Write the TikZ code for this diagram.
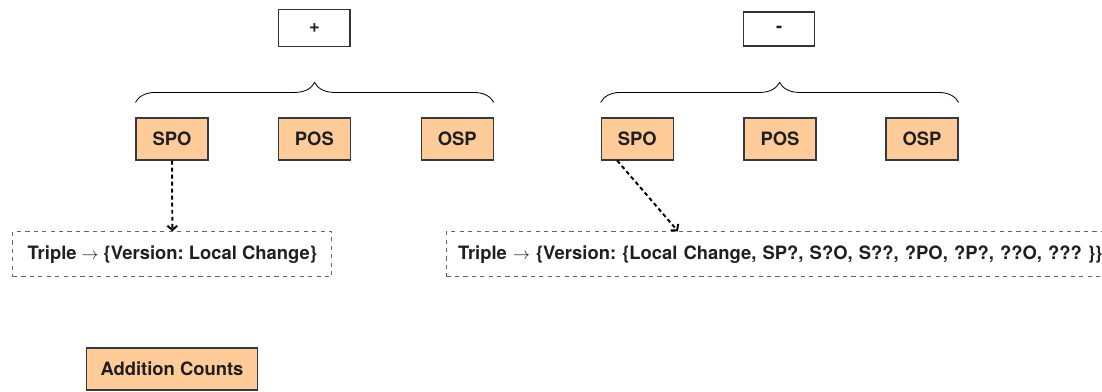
\documentclass[tikz,border=0pt]{standalone}
\usepackage{fontspec}
\setmainfont{TeX Gyre Heros}
\usetikzlibrary{decorations.pathreplacing,arrows.meta}
\definecolor{idxfill}{HTML}{FFCC99}
\definecolor{idxline}{HTML}{36393D}
\frenchspacing
\begin{document}
\begin{tikzpicture}[every node/.style={font=\fontsize{13.1}{15}\selectfont\bfseries, text=black!88},
    opbox/.style={draw=black!80, line width=0.8pt, minimum width=1.78cm, minimum height=0.925cm},
    idxbox/.style={draw=idxline, line width=0.8pt, fill=idxfill, minimum width=1.8cm, minimum height=1.05cm},
    mapbox/.style={draw=black!60, line width=0.6pt, dash pattern=on 3pt off 3pt, minimum height=1.125cm, inner sep=0pt},
    lookup/.style={line width=1.4pt, dash pattern=on 2.8pt off 2.2pt, -{Straight Barb[length=3pt,width=7pt]}},
    bracket/.style={line width=0.6pt, decorate, decoration={brace, amplitude=0.5cm}}]
      \useasboundingbox (0,0) rectangle (27.55,-9.775);
      \node (plus) at (7.86,-0.69) [opbox] {+};
      \node (minus) at (19.48,-0.725) [opbox, minimum height=0.85cm] {-};
      \node (spoA) at (4.3,-3.475) [idxbox] {SPO};
      \node (posA) at (7.86,-3.475) [idxbox] {POS};
      \node (ospA) at (11.43,-3.475) [idxbox] {OSP};
      \node (spoB) at (15.93,-3.475) [idxbox] {SPO};
      \node (posB) at (19.5,-3.475) [idxbox] {POS};
      \node (ospB) at (23.05,-3.475) [idxbox] {OSP};
      \node (mapA) at (4.31,-6.355) [mapbox, minimum width=7.975cm] {Triple $\rightarrow$ \{Version: Local Change\}};
      % box runs off the right edge
      \node (mapB) at (11.15,-6.355) [mapbox, anchor=west, inner xsep=0.29cm, text width=17cm, align=left] {Triple $\rightarrow$ \{Version: \{Local Change, SP?, S?O, S??, ?PO, ?P?, ??O, ??? \}\}};
      \node (legend) at (4.3,-9.225) [idxbox, minimum width=4.275cm] {Addition Counts};
      \coordinate (tipB) at ([xshift=5.8cm]mapB.north west);
      \draw[bracket] ([yshift=0.375cm]spoA.north west) -- ([yshift=0.375cm]ospA.north east);
      \draw[bracket] ([yshift=0.375cm]spoB.north west) -- ([yshift=0.375cm]ospB.north east);
      \draw[lookup] (spoA) -- (mapA);
      \draw[lookup] ([xshift=-0.5cm]spoB.south) -- (tipB);
\end{tikzpicture}
\end{document}
